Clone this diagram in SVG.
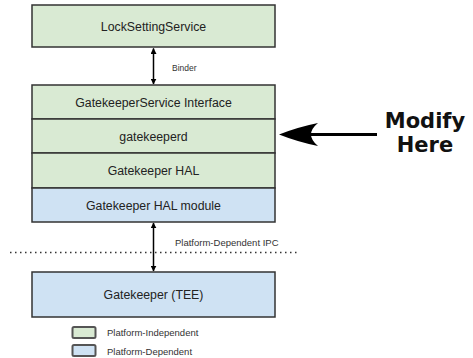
<svg xmlns="http://www.w3.org/2000/svg" width="473" height="358" viewBox="0 0 473 358">
<defs>
<style>
.g{fill:#d9ead3;stroke:#333;stroke-width:1.5}
.b{fill:#cfe2f3;stroke:#333;stroke-width:1.5}
.t{font-family:"Liberation Sans",Arial,sans-serif;font-size:12.3px;fill:#222;text-anchor:middle}
.s{font-family:"Liberation Sans",Arial,sans-serif;font-size:8.5px;fill:#333}
.l{font-family:"Liberation Sans",Arial,sans-serif;font-size:9.5px;fill:#333}
.c{stroke:#000;stroke-width:1.5;fill:none}
.sw{stroke:#555;stroke-width:2}
</style>
<marker id="ah" viewBox="0 0 10 10" refX="9" refY="5" markerWidth="6" markerHeight="6" orient="auto-start-reverse" markerUnits="userSpaceOnUse">
<path d="M0,0 L10,5 L0,10 Z" fill="#000"/>
</marker>
</defs>
<rect width="473" height="358" fill="#fff"/>
<g id="connectors">
<line class="c" x1="153.5" y1="48.5" x2="153.5" y2="84" marker-start="url(#ah)" marker-end="url(#ah)"/>
<text class="s" x="172" y="71">Binder</text>
<line class="c" x1="153.5" y1="223" x2="153.5" y2="271" marker-start="url(#ah)" marker-end="url(#ah)"/>
<text class="l" x="175" y="246">Platform-Dependent IPC</text>
<line x1="10" y1="252.5" x2="298" y2="252.5" stroke="#333" stroke-width="1.5" stroke-dasharray="1.5,3.5"/>
</g>
<g id="lock"><rect class="g" x="32" y="5" width="243" height="42"/><text class="t" x="153.5" y="30.5">LockSettingService</text></g>
<g id="gsi"><rect class="g" x="32" y="85" width="243" height="34"/><text class="t" x="153.5" y="106.5">GatekeeperService Interface</text></g>
<g id="gkd"><rect class="g" x="32" y="119" width="243" height="34"/><text class="t" x="153.5" y="140.5">gatekeeperd</text></g>
<g id="hal"><rect class="g" x="32" y="153" width="243" height="35"/><text class="t" x="153.5" y="175">Gatekeeper HAL</text></g>
<g id="halmod"><rect class="b" x="32" y="188" width="243" height="34"/><text class="t" x="153.5" y="209.5">Gatekeeper HAL module</text></g>
<g id="tee"><rect class="b" x="32" y="272" width="243" height="45"/><text class="t" x="153.5" y="298.5">Gatekeeper (TEE)</text></g>
<g id="modify">
<line x1="305" y1="134.5" x2="377" y2="134.5" stroke="#000" stroke-width="3"/>
<path d="M279,134.5 Q298,127 318,123 Q304,134.5 318,146 Q298,142 279,134.5 Z" fill="#000"/>
<text x="425" y="128" font-family="DejaVu Sans,sans-serif" font-weight="bold" font-size="21" text-anchor="middle" fill="#111">Modify</text>
<text x="425" y="152" font-family="DejaVu Sans,sans-serif" font-weight="bold" font-size="21" text-anchor="middle" fill="#111">Here</text>
</g>
<g id="legend">
<rect class="sw" x="72.5" y="327" width="23" height="11" rx="1.5" fill="#d9ead3"/>
<text class="l" x="107" y="336">Platform-Independent</text>
<rect class="sw" x="72.5" y="345" width="23" height="11" rx="1.5" fill="#cfe2f3"/>
<text class="l" x="107" y="355">Platform-Dependent</text>
</g>
</svg>
